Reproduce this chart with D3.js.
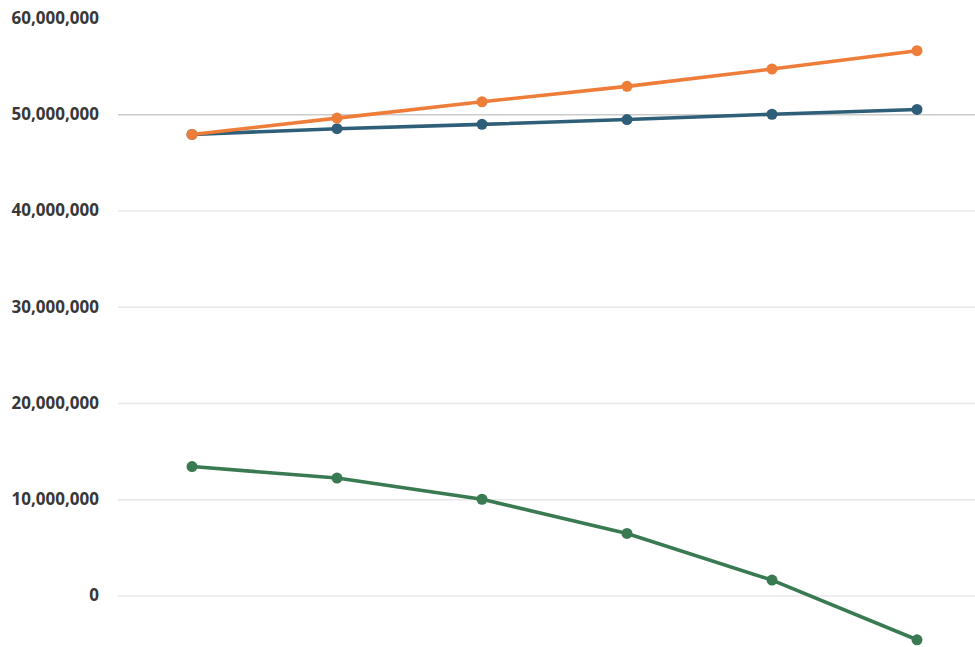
<!DOCTYPE html>
<html>
<head>
<meta charset="utf-8">
<script src="https://cdn.jsdelivr.net/npm/d3@7"></script>
<style>
  html, body { margin: 0; padding: 0; background: #fff; }
  svg { display: block; }
</style>
</head>
<body>
<script>
// Six periods, three series
const periods = ["P1", "P2", "P3", "P4", "P5", "P6"];
const orangeSeries = [47900000, 49600000, 51300000, 52900000, 54700000, 56600000];
const blueSeries   = [47900000, 48500000, 48950000, 49450000, 50000000, 50500000];
const greenSeries  = [13400000, 12200000, 10000000, 6450000, 1600000, -4600000];
const yTicks = [0, 10000000, 20000000, 30000000, 40000000, 50000000, 60000000];

const series = [
  { name: "blue", values: blueSeries, color: "#2f5e79" },
  { name: "orange", values: orangeSeries, color: "#ee7d3a" },
  { name: "green", values: greenSeries, color: "#3a7a52" }
];

const width = 975, height = 647;
const svg = d3.select("body").append("svg")
  .attr("width", width).attr("height", height);

const x = d3.scalePoint().domain(periods).range([192, 917]);
const y = d3.scaleLinear().domain([0, 60000000]).range([595.5, 18]);

// Gridlines and value labels
const yAxis = d3.axisLeft(y)
  .tickValues(yTicks)
  .tickSize(-(975 - 118))
  .tickPadding(19)
  .tickFormat(d3.format(","));

const g = svg.append("g")
  .attr("transform", "translate(118,0)")
  .call(yAxis);
g.select(".domain").remove();
g.selectAll(".tick line")
  .attr("stroke", d => d === 50000000 ? "#cccccc" : "#e8e8e8")
  .attr("stroke-width", 1.5)
  .attr("stroke-opacity", d => d === 60000000 ? 0 : 1);
g.selectAll(".tick text")
  .attr("fill", "#383838")
  .attr("font-family", "'Open Sans', sans-serif")
  .attr("font-weight", 700)
  .attr("font-size", "17px");

const line = d3.line()
  .x((d, i) => x(periods[i]))
  .y(d => y(d));

const sg = svg.selectAll("g.series")
  .data(series)
  .join("g")
  .attr("class", "series");

sg.append("path")
  .attr("d", d => line(d.values))
  .attr("fill", "none")
  .attr("stroke", d => d.color)
  .attr("stroke-width", 3.6)
  .attr("stroke-linejoin", "round");

sg.selectAll("circle")
  .data(d => d.values.map((v, i) => ({ v, i, color: d.color })))
  .join("circle")
  .attr("cx", d => x(periods[d.i]))
  .attr("cy", d => y(d.v))
  .attr("r", 5.5)
  .attr("fill", d => d.color);
</script>
</body>
</html>
